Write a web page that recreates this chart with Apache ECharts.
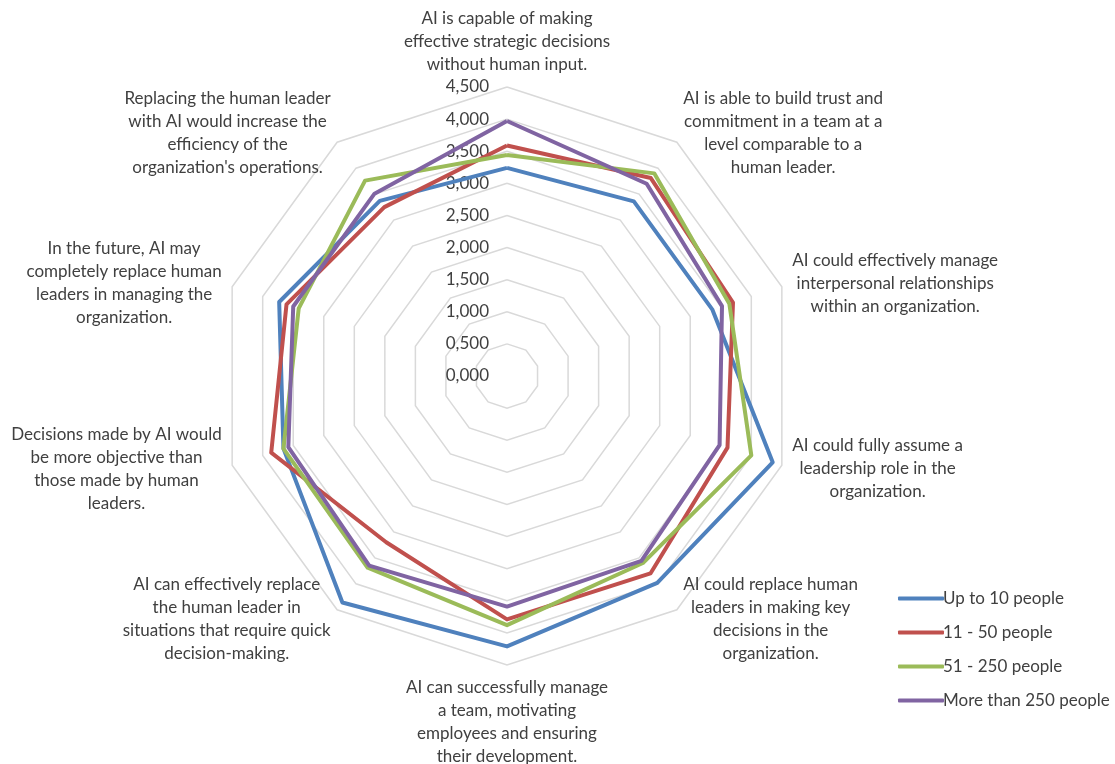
<!DOCTYPE html>
<html>
<head>
<meta charset="utf-8">
<script src="https://cdn.jsdelivr.net/npm/echarts@6/dist/echarts.min.js"></script>
<style>
html,body{margin:0;padding:0;background:#fff;}
#chart{width:1115px;height:764px;}
</style>
</head>
<body>
<div id="chart"></div>
<script>
// Indicators listed clockwise from the top, as in the reference
var indicators = [
  "AI is capable of making\neffective strategic decisions\nwithout human input.",
  "AI is able to build trust and\ncommitment in a team at a\nlevel comparable to a\nhuman leader.",
  "AI could effectively manage\ninterpersonal relationships\nwithin an organization.",
  "AI could fully assume a\nleadership role in the\norganization.",
  "AI could replace human\nleaders in making key\ndecisions in the\norganization.",
  "AI can successfully manage\na team, motivating\nemployees and ensuring\ntheir development.",
  "AI can effectively replace\nthe human leader in\nsituations that require quick\ndecision-making.",
  "Decisions made by AI would\nbe more objective than\nthose made by human\nleaders.",
  "In the future, AI may\ncompletely replace human\nleaders in managing the\norganization.",
  "Replacing the human leader\nwith AI would increase the\nefficiency of the\norganization's operations."
];
var seriesNames = ["Up to 10 people", "11 - 50 people", "51 - 250 people", "More than 250 people"];
var upTo10   = [3.24, 3.36, 3.36, 4.35, 3.98, 4.21, 4.36, 3.66, 3.73, 3.37];
var from11   = [3.59, 3.81, 3.70, 3.61, 3.80, 3.79, 3.20, 3.86, 3.61, 3.25];
var from51   = [3.44, 3.90, 3.64, 4.00, 3.60, 3.88, 3.69, 3.66, 3.41, 3.76];
var over250  = [3.97, 3.70, 3.52, 3.48, 3.56, 3.59, 3.65, 3.58, 3.50, 3.51];
var axisMin = 0, axisMax = 4.5, axisSplits = 9;

var colors = ['#4F81BD', '#C0504D', '#9BBB59', '#8064A2'];
var allValues = [upTo10, from11, from51, over250];
var FONT = 'Lato, "Open Sans", sans-serif';
var TXT = '#404040';

// ECharts radar runs counter-clockwise; reorder so indicators run clockwise
var order = [0];
for (var k = indicators.length - 1; k >= 1; k--) order.push(k);
function reorder(arr) { return order.map(function (i) { return arr[i]; }); }

var chart = echarts.init(document.getElementById('chart'));
var center = [507, 376];
var radius = 289;

var option = {
  animation: false,
  color: colors,
  legend: {
    orient: 'vertical',
    left: 893,
    top: 585,
    icon: 'roundRect',
    itemWidth: 46,
    itemHeight: 4,
    itemGap: 17,
    textStyle: { fontFamily: FONT, fontSize: 17, color: TXT, padding: [0, 0, 0, -6] },
    data: seriesNames
  },
  radar: [{
    center: center,
    radius: radius,
    startAngle: 90,
    shape: 'polygon',
    splitNumber: axisSplits,
    indicator: reorder(indicators).map(function (n) { return { name: n, min: axisMin, max: axisMax }; }),
    axisName: {
      color: TXT,
      fontFamily: FONT,
      fontSize: 17,
      lineHeight: 23,
      formatter: function (name) {
        return name.split('\n').map(function (l) { return '{c|' + l + '}'; }).join('\n');
      },
      rich: { c: { align: 'center', fontFamily: FONT, fontSize: 17, lineHeight: 23, color: TXT } }
    },
    nameGap: 11,
    axisLine: { show: false },
    axisTick: { show: false },
    axisLabel: { show: false },
    splitArea: { show: false },
    splitLine: { lineStyle: { color: '#D9D9D9', width: 1.5 } }
  }, {
    center: center,
    radius: radius,
    startAngle: 90,
    shape: 'polygon',
    splitNumber: axisSplits,
    indicator: [{ name: '', min: axisMin, max: axisMax }],
    axisName: { show: false },
    axisLine: { show: false },
    axisTick: { show: false },
    splitArea: { show: false },
    splitLine: { show: false },
    axisLabel: {
      show: true,
      color: TXT,
      fontFamily: FONT,
      fontSize: 17,
      margin: 18,
      formatter: function (v) { return Number(v).toFixed(3).replace('.', ','); }
    }
  }],
  series: seriesNames.map(function (n, i) {
    return {
      type: 'radar',
      radarIndex: 0,
      name: n,
      symbol: 'none',
      lineStyle: { width: 4, color: colors[i] },
      itemStyle: { color: colors[i] },
      data: [{ name: n, value: reorder(allValues[i]) }]
    };
  })
};
chart.setOption(option);
</script>
</body>
</html>
